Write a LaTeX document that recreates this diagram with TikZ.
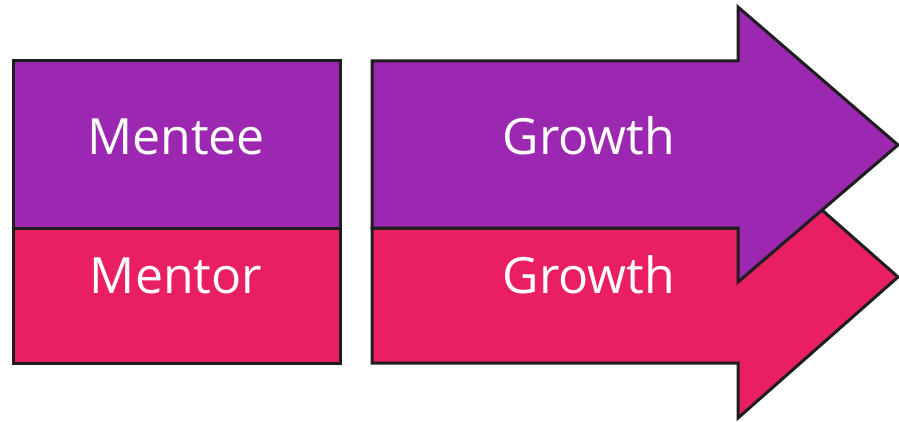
\documentclass[tikz,border=0pt]{standalone}
\usepackage{fontspec}
\setmainfont{Open Sans}
\usepackage{xcolor}

\definecolor{menteepurple}{HTML}{9C27B0}
\definecolor{mentorpink}{HTML}{E91E63}
\definecolor{edgegray}{HTML}{1E1E1E}

\tikzset{
  block/.style={draw=edgegray, line width=3pt, line join=miter},
  label/.style={text=white, anchor=base, inner sep=0pt,
    font=\fontsize{50}{54}\selectfont}
}

\begin{document}
\begin{tikzpicture}[x=1pt,y=-1pt]
    \useasboundingbox (0,0) rectangle (899,422);
    \filldraw[block, fill=menteepurple]
      (13,61) rectangle (340,228);
    \filldraw[block, fill=mentorpink]
      (13,228) rectangle (340,363);
    \filldraw[block, fill=mentorpink]
      (372,228) -- (738,228) -- (738,136) -- (898,277) -- (738,418) -- (738,363) -- (372,363) -- cycle;
    \filldraw[block, fill=menteepurple]
      (372,61) -- (738,61) -- (738,7) -- (898,145) -- (738,282) -- (738,228) -- (372,228) -- cycle;
    \node[label] (mentee) at (176,155) {Mentee};
    \node[label] (mentor) at (176,293) {Mentor};
    \node[label] (growthtop) at (589,155) {Growth};
    \node[label] (growthbottom) at (589,293) {Growth};
  \end{tikzpicture}
\end{document}
